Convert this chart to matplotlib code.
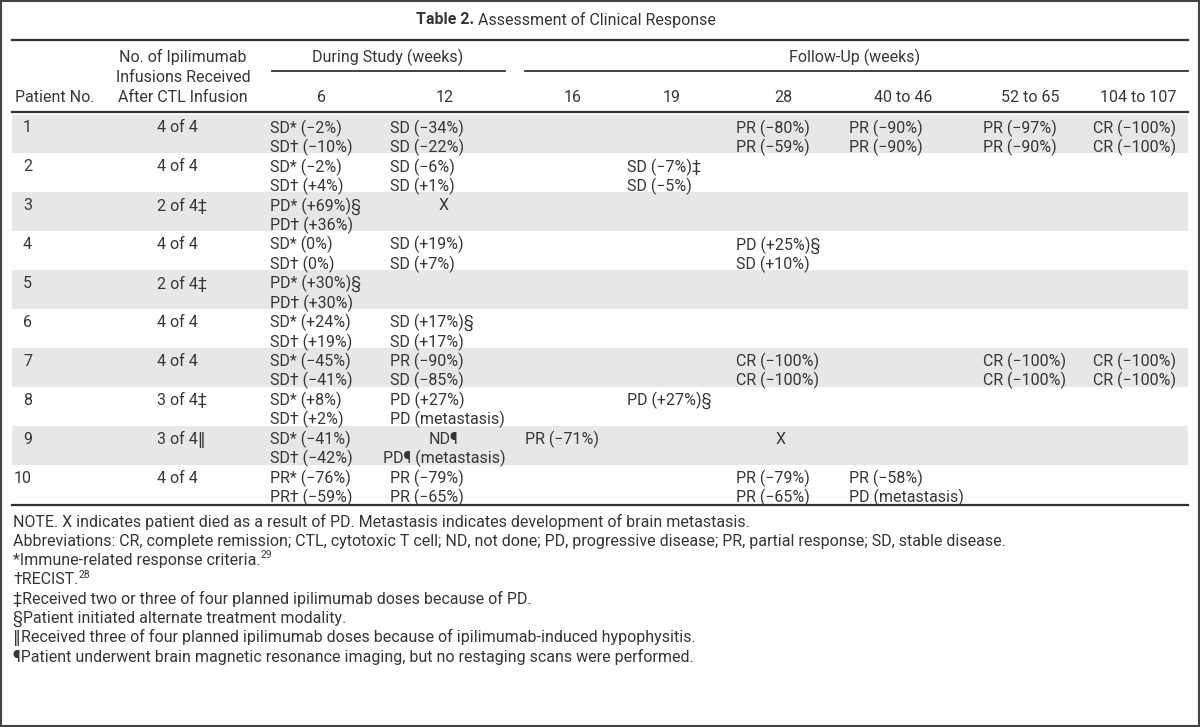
import matplotlib
matplotlib.use("Agg")
import matplotlib.pyplot as plt

plt.rcParams['font.family'] = ['Roboto', 'DejaVu Sans']

# ---------------- data ----------------
title_bold = "Table 2."
title_rest = " Assessment of Clinical Response"

patients = ["1", "2", "3", "4", "5", "6", "7", "8", "9", "10"]
infusions = ["4 of 4", "4 of 4", "2 of 4‡", "4 of 4", "2 of 4‡",
             "4 of 4", "4 of 4", "3 of 4‡", "3 of 4‖", "4 of 4"]

week_labels = ["6", "12", "16", "19", "28", "40 to 46", "52 to 65", "104 to 107"]

w6 = ["SD* (−2%)\nSD† (−10%)", "SD* (−2%)\nSD† (+4%)", "PD* (+69%)§\nPD† (+36%)",
      "SD* (0%)\nSD† (0%)", "PD* (+30%)§\nPD† (+30%)", "SD* (+24%)\nSD† (+19%)",
      "SD* (−45%)\nSD† (−41%)", "SD* (+8%)\nSD† (+2%)", "SD* (−41%)\nSD† (−42%)",
      "PR* (−76%)\nPR† (−59%)"]
w12 = ["SD (−34%)\nSD (−22%)", "SD (−6%)\nSD (+1%)", "X", "SD (+19%)\nSD (+7%)", "",
       "SD (+17%)§\nSD (+17%)", "PR (−90%)\nSD (−85%)", "PD (+27%)\nPD (metastasis)",
       "ND¶\nPD¶ (metastasis)", "PR (−79%)\nPR (−65%)"]
w16 = ["", "", "", "", "", "", "", "", "PR (−71%)", ""]
w19 = ["", "SD (−7%)‡\nSD (−5%)", "", "", "", "", "", "PD (+27%)§", "", ""]
w28 = ["PR (−80%)\nPR (−59%)", "", "", "PD (+25%)§\nSD (+10%)", "", "",
       "CR (−100%)\nCR (−100%)", "", "X", "PR (−79%)\nPR (−65%)"]
w40 = ["PR (−90%)\nPR (−90%)", "", "", "", "", "", "", "", "",
       "PR (−58%)\nPD (metastasis)"]
w52 = ["PR (−97%)\nPR (−90%)", "", "", "", "", "", "CR (−100%)\nCR (−100%)", "", "", ""]
w104 = ["CR (−100%)\nCR (−100%)", "", "", "", "", "", "CR (−100%)\nCR (−100%)", "", "", ""]

week_cols = [w6, w12, w16, w19, w28, w40, w52, w104]

footnotes = [
    ("NOTE. X indicates patient died as a result of PD. Metastasis indicates development of brain metastasis.", ""),
    ("Abbreviations: CR, complete remission; CTL, cytotoxic T cell; ND, not done; PD, progressive disease; PR, partial response; SD, stable disease.", ""),
    ("*Immune-related response criteria.", "29"),
    ("†RECIST.", "28"),
    ("‡Received two or three of four planned ipilimumab doses because of PD.", ""),
    ("§Patient initiated alternate treatment modality.", ""),
    ("‖Received three of four planned ipilimumab doses because of ipilimumab-induced hypophysitis.", ""),
    ("¶Patient underwent brain magnetic resonance imaging, but no restaging scans were performed.", ""),
]

# ---------------- layout ----------------
W, H = 1200, 727
fig = plt.figure(figsize=(W / 100, H / 100), dpi=100)
ax = fig.add_axes([0, 0, 1, 1])
ax.set_xlim(0, W)
ax.set_ylim(H, 0)
ax.axis('off')

TXT = '#363636'
FS = 11.55
SHADE = '#e6e7e8'
RULE = '#333333'

# outer frame
ax.add_patch(plt.Rectangle((1, 1), W - 2.5, H - 2.5, fill=False, ec='#444444', lw=1.5))

L, R = 12, 1188
# title
t = ax.text(416, 20, title_bold, fontsize=FS, fontweight='bold', color=TXT,
            ha='left', va='center')
ax.annotate(title_rest, xy=(1, 0.5), xycoords=t, va='center', ha='left',
            fontsize=FS, color=TXT)

ax.plot([L, R], [40, 40], color=RULE, lw=1.6)
ax.plot([L, R], [112, 112], color=RULE, lw=1.6)

# header
ax.text(15, 97, "Patient No.", fontsize=FS, color=TXT, ha='left', va='center')
ax.text(183, 57, "No. of Ipilimumab", fontsize=FS, color=TXT, ha='center', va='center')
ax.text(183, 78, "Infusions Received", fontsize=FS, color=TXT, ha='center', va='center')
ax.text(183, 97, "After CTL Infusion", fontsize=FS, color=TXT, ha='center', va='center')
ax.text(388, 57, "During Study (weeks)", fontsize=FS, color=TXT, ha='center', va='center')
ax.plot([272, 505], [71, 71], color=RULE, lw=1.3)
ax.text(855, 57, "Follow-Up (weeks)", fontsize=FS, color=TXT, ha='center', va='center')
ax.plot([525, R], [71, 71], color=RULE, lw=1.3)

hdr_x = [321, 445, 573, 672, 783, 903, 1030, 1138]
for x, lab in zip(hdr_x, week_labels):
    ax.text(x, 97, lab, fontsize=FS, color=TXT, ha='center', va='center')

# body
row_top = 114.5
row_h = 38.9
line_gap = 19.4
col_left = [270, 390, 525, 627, 736, 849, 983, 1093]
col_center = [321, 444, 573, 672, 781, 903, 1030, 1138]
centered = {(2, 1), (8, 1), (8, 4)}

for i in range(len(patients)):
    y0 = row_top + i * row_h
    if i % 2 == 0:
        ax.add_patch(plt.Rectangle((L, y0), R - L, row_h, color=SHADE, lw=0, zorder=0))
    y1 = y0 + 13.5
    ax.text(32, y1, patients[i], fontsize=FS, color=TXT, ha='right', va='center')
    ax.text(157, y1, infusions[i], fontsize=FS, color=TXT, ha='left', va='center')
    for j, col in enumerate(week_cols):
        cell = col[i]
        if not cell:
            continue
        for k, line in enumerate(cell.split("\n")):
            if (i, j) in centered:
                ax.text(col_center[j], y1 + k * line_gap, line, fontsize=FS, color=TXT,
                        ha='center', va='center')
            else:
                ax.text(col_left[j], y1 + k * line_gap, line, fontsize=FS, color=TXT,
                        ha='left', va='center')

bottom = row_top + len(patients) * row_h
ax.plot([L, R], [bottom + 1, bottom + 1], color=RULE, lw=1.6)

# footnotes
fy = 522
for k, (txt, sup) in enumerate(footnotes):
    ft = ax.text(13, fy + k * 19.3, txt, fontsize=FS, color=TXT, ha='left', va='center')
    if sup:
        ax.annotate(sup, xy=(1, 0.85), xycoords=ft, va='center', ha='left',
                    fontsize=7.5, color=TXT)

fig.savefig("out.png", dpi=100)
